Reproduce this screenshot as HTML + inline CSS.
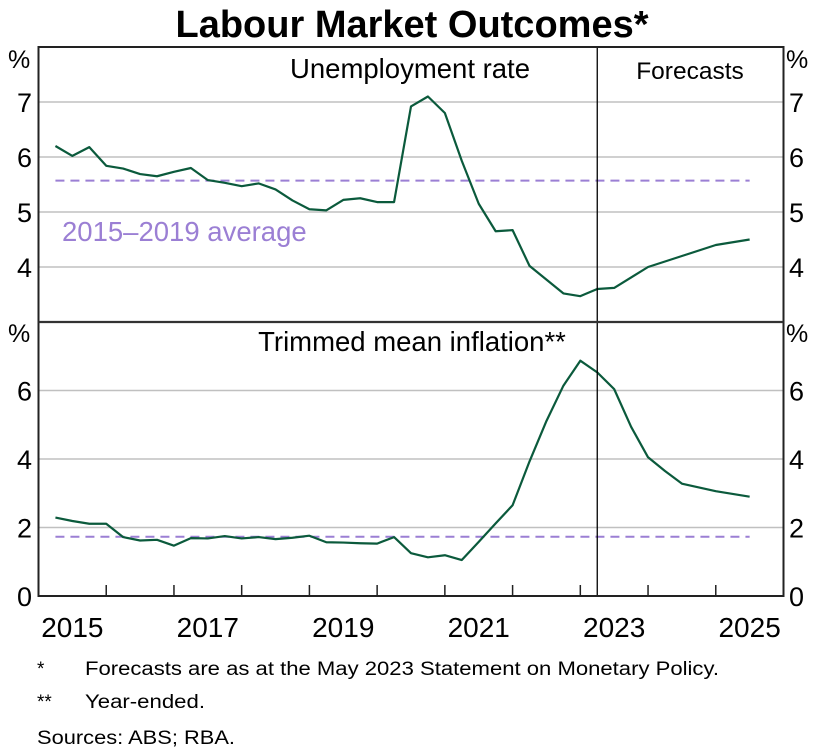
<!DOCTYPE html>
<html><head><meta charset="utf-8"><style>
html,body{margin:0;padding:0;background:#fff;}
svg{display:block;font-family:"Liberation Sans",Arial,sans-serif;}
</style></head><body>
<svg id="chart" width="824" height="754" viewBox="0 0 824 754">
<text x="412" y="37" text-anchor="middle" font-size="38" font-weight="bold">Labour Market Outcomes*</text>
<g id="grid"></g>
<g id="marks"></g>
<g id="frame"></g>
<g id="labels"></g>
<text x="37" y="675" font-size="19">*</text>
<text x="85" y="675" font-size="19" textLength="634" lengthAdjust="spacingAndGlyphs">Forecasts are as at the May 2023 Statement on Monetary Policy.</text>
<text x="37" y="708" font-size="19">**</text>
<text x="85" y="708" font-size="19" textLength="120" lengthAdjust="spacingAndGlyphs">Year-ended.</text>
<text x="37" y="744" font-size="19" textLength="198" lengthAdjust="spacingAndGlyphs">Sources: ABS; RBA.</text>
</svg>
<script>
const unempDates = [2015.25,2015.5,2015.75,2016,2016.25,2016.5,2016.75,2017,2017.25,2017.5,2017.75,2018,2018.25,2018.5,2018.75,2019,2019.25,2019.5,2019.75,2020,2020.25,2020.5,2020.75,2021,2021.25,2021.5,2021.75,2022,2022.25,2022.5,2022.75,2023,2023.25,2023.5,2024,2024.5,2025,2025.5];
const unempValues = [6.2,6.02,6.18,5.84,5.79,5.69,5.65,5.73,5.8,5.58,5.53,5.47,5.52,5.41,5.21,5.05,5.03,5.22,5.25,5.18,5.18,6.92,7.1,6.8,5.93,5.15,4.65,4.67,4.02,3.77,3.52,3.47,3.6,3.62,4.0,4.2,4.4,4.5];
const inflDates = [2015.25,2015.5,2015.75,2016,2016.25,2016.5,2016.75,2017,2017.25,2017.5,2017.75,2018,2018.25,2018.5,2018.75,2019,2019.25,2019.5,2019.75,2020,2020.25,2020.5,2020.75,2021,2021.25,2021.5,2021.75,2022,2022.25,2022.5,2022.75,2023,2023.25,2023.5,2023.75,2024,2024.25,2024.5,2025,2025.5];
const inflValues = [2.29,2.19,2.11,2.11,1.72,1.62,1.64,1.47,1.69,1.68,1.75,1.68,1.72,1.66,1.7,1.76,1.57,1.56,1.54,1.53,1.72,1.25,1.13,1.19,1.05,1.58,2.12,2.65,3.93,5.11,6.14,6.87,6.53,6.04,4.94,4.05,3.65,3.28,3.06,2.9];
const unempAverage = 5.57;
const inflAverage = 1.73;
const averageRange = [2015.25, 2025.5];
const forecastStart = 2023.25;
const topTicks = [4,5,6,7];
const bottomTicks = [0,2,4,6];
const yearLabels = [2015,2017,2019,2021,2023,2025];
const yearTicks = [2016,2017,2018,2019,2020,2021,2022,2023,2024,2025];

const NS = "http://www.w3.org/2000/svg";
const L = 38.5, R = 783.5, T = 47, MID = 322, B = 596;
const x = d => L + (d - 2015) / 11 * (R - L);
const yTop = v => T + (8 - v) / 5 * (MID - T);
const yBot = v => MID + (8 - v) / 8 * (B - MID);
function mk(tag, attrs, parent) {
  const e = document.createElementNS(NS, tag);
  for (const k in attrs) e.setAttribute(k, attrs[k]);
  document.getElementById(parent).appendChild(e);
  return e;
}
topTicks.forEach(v => {
  const g = mk('line', {x1: L, x2: R, y1: yTop(v), y2: yTop(v), stroke: '#c0c0c0', 'stroke-width': 1.5}, 'grid');
  
  
  [[32, 'end'], [789, 'start']].forEach(([tx, an]) => {
    const t = mk('text', {x: tx, y: yTop(v) + 10, 'font-size': 27, 'text-anchor': an}, 'labels');
    t.textContent = v;
    
    
  });
});
bottomTicks.forEach(v => {
  if (v > 0) {
    const g = mk('line', {x1: L, x2: R, y1: yBot(v), y2: yBot(v), stroke: '#c0c0c0', 'stroke-width': 1.5}, 'grid');
    
    
  }
  [[32, 'end'], [789, 'start']].forEach(([tx, an]) => {
    const t = mk('text', {x: tx, y: yBot(v) + 10, 'font-size': 27, 'text-anchor': an}, 'labels');
    t.textContent = v;
    
    
  });
});
const a1 = mk('line', {x1: x(averageRange[0]), x2: x(averageRange[1]), y1: yTop(unempAverage), y2: yTop(unempAverage), stroke: '#9b7fd4', 'stroke-width': 2, 'stroke-dasharray': '9,6'}, 'marks');


const a2 = mk('line', {x1: x(averageRange[0]), x2: x(averageRange[1]), y1: yBot(inflAverage), y2: yBot(inflAverage), stroke: '#9b7fd4', 'stroke-width': 2, 'stroke-dasharray': '9,6'}, 'marks');


const p1 = mk('polyline', {points: unempDates.map((d, i) => x(d) + ',' + yTop(unempValues[i])).join(' '), fill: 'none', stroke: '#0b5a3c', 'stroke-width': 2.2, 'stroke-linejoin': 'round'}, 'marks');


const p2 = mk('polyline', {points: inflDates.map((d, i) => x(d) + ',' + yBot(inflValues[i])).join(' '), fill: 'none', stroke: '#0b5a3c', 'stroke-width': 2.2, 'stroke-linejoin': 'round'}, 'marks');


const fl = mk('line', {x1: x(forecastStart), x2: x(forecastStart), y1: T, y2: B, stroke: '#000', 'stroke-width': 1.3}, 'frame');


const fr = mk('rect', {x: L, y: T, width: R - L, height: B - T, fill: 'none', stroke: '#222', 'stroke-width': 2}, 'frame');


const md = mk('line', {x1: L, x2: R, y1: MID, y2: MID, stroke: '#333', 'stroke-width': 2.2}, 'frame');


yearTicks.forEach(yr => {
  const t = mk('line', {x1: x(yr), x2: x(yr), y1: B, y2: B - 11, stroke: '#222', 'stroke-width': 1.5}, 'frame');
  
  
});
yearLabels.forEach(yr => {
  const t = mk('text', {x: x(yr + 0.5), y: 637, 'font-size': 28, 'text-anchor': 'middle'}, 'labels');
  t.textContent = yr;
  
  
});
[[8, 68], [786, 68], [8, 342], [786, 342]].forEach(([tx, ty]) => {
  const t = mk('text', {x: tx, y: ty, 'font-size': 25}, 'labels');
  t.textContent = '%';
  
  
});
const t1 = mk('text', {x: 410, y: 78, 'font-size': 27.5, 'text-anchor': 'middle'}, 'labels');
t1.textContent = 'Unemployment rate';


const t2 = mk('text', {x: 690, y: 79, 'font-size': 24.5, 'text-anchor': 'middle'}, 'labels');
t2.textContent = 'Forecasts';


const t3 = mk('text', {x: 412, y: 351, 'font-size': 27.5, 'text-anchor': 'middle'}, 'labels');
t3.textContent = 'Trimmed mean inflation**';


const t4 = mk('text', {x: 62, y: 241, 'font-size': 27.5, fill: '#9b7fd4'}, 'labels');
t4.textContent = '2015–2019 average';


</script>
</body></html>
